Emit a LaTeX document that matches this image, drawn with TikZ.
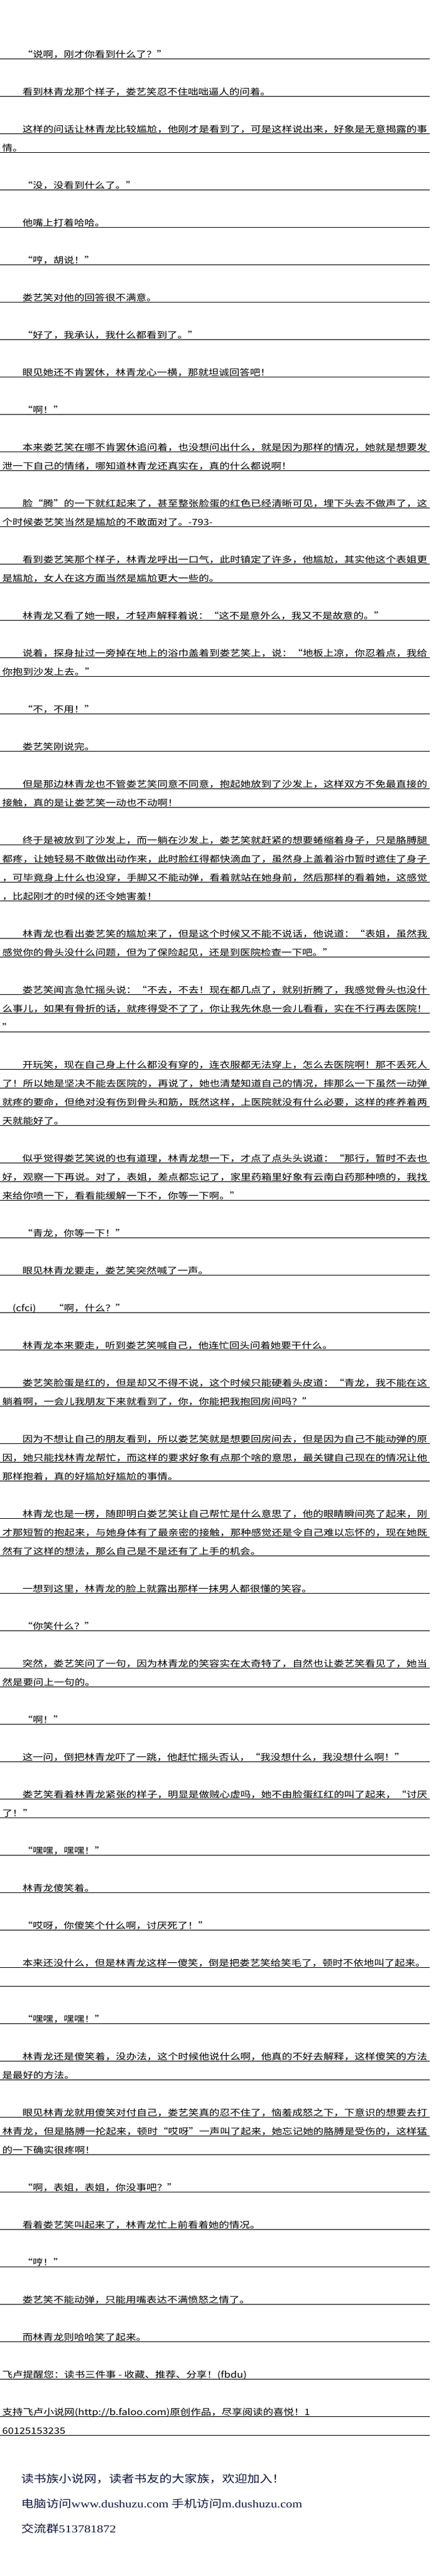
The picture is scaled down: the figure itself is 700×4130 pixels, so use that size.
\documentclass[tikz,border=0pt]{standalone}
\usepackage{fontspec}
\usepackage{graphicx}
\newfontfamily\cjk[FakeStretch=1.186]{Noto Sans CJK SC}
\newfontfamily\ftlat[FakeStretch=1.2]{Liberation Serif}
\definecolor{footnavy}{RGB}{16,22,60}
\makeatletter
\newsavebox\fitbox
\newcommand\fitto[2]{\sbox\fitbox{#2}\edef\fitratio{\strip@pt\dimexpr #1pt*65536/\wd\fitbox\relax}\scalebox{\fitratio}[1]{\usebox\fitbox}}
\makeatother
\begingroup
\catcode`“=\active
\catcode`”=\active
\gdef“{\makebox[16.6pt][r]{\char"201C}}
\gdef”{\makebox[16.6pt][l]{\char"201D}}
\endgroup
\tikzset{
  txt/.style={anchor=base west, inner sep=0pt, outer sep=0pt, font=\cjk\fontsize{14}{14}\selectfont, text=black},
  rule/.style={line width=1pt, draw=black},
  foot/.style={anchor=base west, inner sep=0pt, outer sep=0pt, font=\cjk\fontsize{17}{17}\selectfont, text=footnavy}
}
\newcommand\ruley[1]{\draw[rule] (0,{-94.3-30*#1}) -- (690,{-94.3-30*#1});}
\newcommand\LPI[2]{\node[txt] (t#1) at (36,{-92.8-30*#1}) {#2};\ruley{#1}}
\newcommand\LPC[2]{\node[txt] (t#1) at (3.6,{-92.8-30*#1}) {#2};\ruley{#1}}
\newcommand\LFI[2]{\node[txt] (t#1) at (36,{-92.8-30*#1}) {\fitto{650}{#2}};\ruley{#1}}
\newcommand\LFC[2]{\node[txt] (t#1) at (3.6,{-92.8-30*#1}) {\fitto{682.4}{#2}};\ruley{#1}}
\begin{document}
\catcode`“=\active
\catcode`”=\active
\begin{tikzpicture}[x=1pt,y=1pt]
\fill[white] (0,0) rectangle (700,-4130);
\useasboundingbox (0,0) rectangle (700,-4130);
\LPI{0}{“说啊，刚才你看到什么了？”}
\LPI{2}{看到林青龙那个样子，娄艺笑忍不住咄咄逼人的问着。}
\LFI{4}{这样的问话让林青龙比较尴尬，他刚才是看到了，可是这样说出来，好象是无意揭露的事}
\LPC{5}{情。}
\LPI{7}{“没，没看到什么了。”}
\LPI{9}{他嘴上打着哈哈。}
\LPI{11}{“哼，胡说！”}
\LPI{13}{娄艺笑对他的回答很不满意。}
\LPI{15}{“好了，我承认，我什么都看到了。”}
\LPI{17}{眼见她还不肯罢休，林青龙心一横，那就坦诚回答吧！}
\LPI{19}{“啊！”}
\LFI{21}{本来娄艺笑在哪不肯罢休追问着，也没想问出什么，就是因为那样的情况，她就是想要发}
\LPC{22}{泄一下自己的情绪，哪知道林青龙还真实在，真的什么都说啊！}
\LFI{24}{脸“腾”的一下就红起来了，甚至整张脸蛋的红色已经清晰可见，埋下头去不做声了，这}
\LPC{25}{个时候娄艺笑当然是尴尬的不敢面对了。-793-}
\LFI{27}{看到娄艺笑那个样子，林青龙呼出一口气，此时镇定了许多，他尴尬，其实他这个表姐更}
\LPC{28}{是尴尬，女人在这方面当然是尴尬更大一些的。}
\LPI{30}{林青龙又看了她一眼，才轻声解释着说：“这不是意外么，我又不是故意的。”}
\LFI{32}{说着，探身扯过一旁掉在地上的浴巾盖着到娄艺笑上，说：“地板上凉，你忍着点，我给}
\LPC{33}{你抱到沙发上去。”}
\LPI{35}{“不，不用！”}
\LPI{37}{娄艺笑刚说完。}
\LFI{39}{但是那边林青龙也不管娄艺笑同意不同意，抱起她放到了沙发上，这样双方不免最直接的}
\LPC{40}{接触，真的是让娄艺笑一动也不动啊！}
\LFI{42}{终于是被放到了沙发上，而一躺在沙发上，娄艺笑就赶紧的想要蜷缩着身子，只是胳膊腿}
\LFC{43}{都疼，让她轻易不敢做出动作来，此时脸红得都快滴血了，虽然身上盖着浴巾暂时遮住了身子}
\LFC{44}{，可毕竟身上什么也没穿，手脚又不能动弹，看着就站在她身前，然后那样的看着她，这感觉}
\LPC{45}{，比起刚才的时候的还令她害羞！}
\LFI{47}{林青龙也看出娄艺笑的尴尬来了，但是这个时候又不能不说话，他说道：“表姐，虽然我}
\LPC{48}{感觉你的骨头没什么问题，但为了保险起见，还是到医院检查一下吧。”}
\LFI{50}{娄艺笑闻言急忙摇头说：“不去，不去！现在都几点了，就别折腾了，我感觉骨头也没什}
\LFC{51}{么事儿，如果有骨折的话，就疼得受不了了，你让我先休息一会儿看看，实在不行再去医院！}
\LPC{52}{”}
\LFI{54}{开玩笑，现在自己身上什么都没有穿的，连衣服都无法穿上，怎么去医院啊！那不丢死人}
\LFC{55}{了！所以她是坚决不能去医院的，再说了，她也清楚知道自己的情况，摔那么一下虽然一动弹}
\LFC{56}{就疼的要命，但绝对没有伤到骨头和筋，既然这样，上医院就没有什么必要，这样的疼养着两}
\LPC{57}{天就能好了。}
\LFI{59}{似乎觉得娄艺笑说的也有道理，林青龙想一下，才点了点头头说道：“那行，暂时不去也}
\LFC{60}{好，观察一下再说。对了，表姐，差点都忘记了，家里药箱里好象有云南白药那种喷的，我找}
\LPC{61}{来给你喷一下，看看能缓解一下不，你等一下啊。”}
\LPI{63}{“青龙，你等一下！”}
\LPI{65}{眼见林青龙要走，娄艺笑突然喊了一声。}
\node[txt] (t67a) at (20,{-92.8-30*67}) {(cfci)};
\node[txt] (t67b) at (86,{-92.8-30*67}) {“啊，什么？”};
\ruley{67}
\LPI{69}{林青龙本来要走，听到娄艺笑喊自己，他连忙回头问着她要干什么。}
\LFI{71}{娄艺笑脸蛋是红的，但是却又不得不说，这个时候只能硬着头皮道：“青龙，我不能在这}
\LPC{72}{躺着啊，一会儿我朋友下来就看到了，你，你能把我抱回房间吗？”}
\LFI{74}{因为不想让自己的朋友看到，所以娄艺笑就是想要回房间去，但是因为自己不能动弹的原}
\LFC{75}{因，她只能找林青龙帮忙，而这样的要求好象有点那个啥的意思，最关键自己现在的情况让他}
\LPC{76}{那样抱着，真的好尴尬好尴尬的事情。}
\LFI{78}{林青龙也是一楞，随即明白娄艺笑让自己帮忙是什么意思了，他的眼睛瞬间亮了起来，刚}
\LFC{79}{才那短暂的抱起来，与她身体有了最亲密的接触，那种感觉还是令自己难以忘怀的，现在她既}
\LPC{80}{然有了这样的想法，那么自己是不是还有了上手的机会。}
\LPI{82}{一想到这里，林青龙的脸上就露出那样一抹男人都很懂的笑容。}
\LPI{84}{“你笑什么？”}
\LFI{86}{突然，娄艺笑问了一句，因为林青龙的笑容实在太奇特了，自然也让娄艺笑看见了，她当}
\LPC{87}{然是要问上一句的。}
\LPI{89}{“啊！”}
\LPI{91}{这一问，倒把林青龙吓了一跳，他赶忙摇头否认，“我没想什么，我没想什么啊！”}
\LFI{93}{娄艺笑看着林青龙紧张的样子，明显是做贼心虚吗，她不由脸蛋红红的叫了起来，“讨厌}
\LPC{94}{了！”}
\LPI{96}{“嘿嘿，嘿嘿！”}
\LPI{98}{林青龙傻笑着。}
\LPI{100}{“哎呀，你傻笑个什么啊，讨厌死了！”}
\LPI{102}{本来还没什么，但是林青龙这样一傻笑，倒是把娄艺笑给笑毛了，顿时不依地叫了起来。}
\ruley{103}
\LPI{105}{“嘿嘿，嘿嘿！”}
\LFI{107}{林青龙还是傻笑着，没办法，这个时候他说什么啊，他真的不好去解释，这样傻笑的方法}
\LPC{108}{是最好的方法。}
\LFI{110}{眼见林青龙就用傻笑对付自己，娄艺笑真的忍不住了，恼羞成怒之下，下意识的想要去打}
\LFC{111}{林青龙，但是胳膊一抡起来，顿时“哎呀”一声叫了起来，她忘记她的胳膊是受伤的，这样猛}
\LPC{112}{的一下确实很疼啊！}
\LPI{114}{“啊，表姐，表姐，你没事吧？”}
\LPI{116}{看着娄艺笑叫起来了，林青龙忙上前看着她的情况。}
\LPI{118}{“哼！”}
\LPI{120}{娄艺笑不能动弹，只能用嘴表达不满愤怒之情了。}
\LPI{122}{而林青龙则哈哈笑了起来。}
\LPC{124}{飞卢提醒您：读书三件事 - 收藏、推荐、分享！(fbdu)}
\LPC{126}{支持飞卢小说网(http://b.faloo.com)原创作品，尽享阅读的喜悦！1}
\LPC{127}{60125153235}
\node[foot] (f1) at (34,-3980.5) {读书族小说网，读者书友的大家族，欢迎加入！};
\node[foot] (f2) at (34,-4020.5) {电脑访问{\ftlat www.dushuzu.com} 手机访问{\ftlat m.dushuzu.com}};
\node[foot] (f3) at (34,-4060.5) {交流群{\ftlat 513781872}};
\end{tikzpicture}
\end{document}
